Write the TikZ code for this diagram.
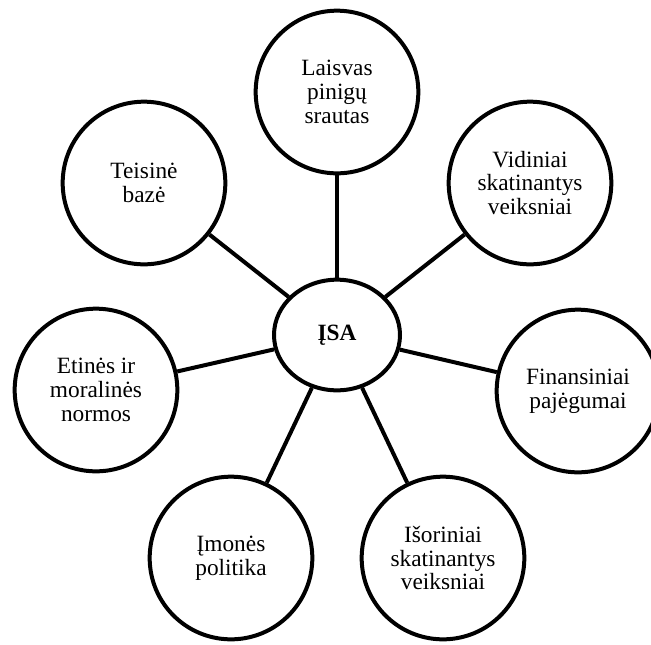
\documentclass[tikz,border=0pt]{standalone}
\usepackage{fontspec}
\setmainfont{Liberation Serif}
\usetikzlibrary{shapes.geometric}

\begin{document}
\begin{tikzpicture}[x=0.75pt,y=-0.75pt,line width=3pt]
\useasboundingbox (0,0) rectangle (651,644);
\begin{scope}[every node/.style={circle,draw,minimum size=122pt,inner sep=0pt,align=center,font=\fontsize{17.5}{17.8}\selectfont}]
    \node (1) at (337,92)  {Laisvas\\pinigų\\srautas};
    \node (2) at (530,183) {Vidiniai\\skatinantys\\veiksniai};
    \node (3) at (578,391) {Finansiniai\\pajėgumai};
    \node (4) at (443,558) {Išoriniai\\skatinantys\\veiksniai};
    \node (5) at (231,558) {Įmonės\\politika};
    \node (6) at (96,390)  {Etinės ir\\moralinės\\normos};
    \node (7) at (144,183) {Teisinė\\bazė};
\end{scope}
\node[ellipse,draw,minimum width=94.5pt,minimum height=83pt,inner sep=0pt,font=\fontsize{17.5}{17.8}\selectfont\bfseries] (0) at (337,335) {ĮSA};

\draw (0) -- (1);
\draw (0) -- (2);
\draw (0) -- (3);
\draw (0) -- (4);
\draw (0) -- (5);
\draw (0) -- (6);
\draw (0) -- (7);
\end{tikzpicture}
\end{document}
